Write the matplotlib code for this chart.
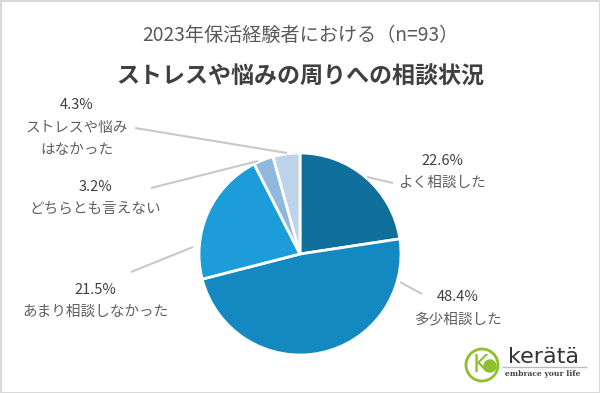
import matplotlib.pyplot as plt
from matplotlib.patches import Circle, Rectangle

plt.rcParams['font.family'] = ['Noto Sans CJK JP', 'DejaVu Sans']

title_top = '2023年保活経験者における（n=93）'
title_main = 'ストレスや悩みの周りへの相談状況'
categories = ['よく相談した', '多少相談した', 'あまり相談しなかった', 'どちらとも言えない', 'ストレスや悩み\nはなかった']
shares = [22.6, 48.4, 21.5, 3.2, 4.3]
colors = ['#10709b', '#1488c0', '#1c9cd8', '#8fb8de', '#bcd3ea']

# label layout in pixel space (x, y of the percent text)
label_pos = [(442, 161), (458, 297), (95, 290), (95, 187), (77, 105)]
line_pos = [((367, 177), (393, 183)), ((400, 282), (422, 294)),
            ((193, 247), (131, 272)), ((258, 161), (151, 188)),
            ((287, 153), (135, 128))]

W, H = 600, 393
fig = plt.figure(figsize=(6, 3.93), dpi=100)
ax = fig.add_axes([0, 0, 1, 1])


def py(y):
    return H - y


ax.pie(shares, colors=colors, startangle=90, counterclock=False,
       center=(300, py(254)), radius=101,
       wedgeprops=dict(edgecolor='white', linewidth=2), frame=True)
ax.set_xlim(0, W)
ax.set_ylim(0, H)
ax.set_aspect('equal')
ax.axis('off')

ax.add_patch(Rectangle((0.5, 0.5), W - 1, H - 1, fill=False, edgecolor='#d9d9d9', lw=1.5))

ax.text(300, py(35), title_top, ha='center', va='center', fontsize=13.8, color='#595959')
ax.text(300, py(77), title_main, ha='center', va='center', fontsize=16.6, color='#404040', fontweight='bold')

for (a, b) in line_pos:
    ax.plot([a[0], b[0]], [py(a[1]), py(b[1])], color='#c8c8c8', lw=1.5, solid_capstyle='butt')

for cat, val, (x, y) in zip(categories, shares, label_pos):
    ax.text(x, py(y), f'{val}%', ha='center', va='center', fontsize=10.5, color='#404040')
    n = cat.count('\n')
    ax.text(x, py(y + 22 + 12 * n), cat, ha='center', va='center',
            fontsize=10.5, color='#606060', linespacing=1.8)

# logo
ax.add_patch(Circle((482, py(365)), 16, fill=False, edgecolor='#8fbf2a', lw=2))
ax.text(480, py(365), 'K', ha='center', va='center', fontsize=17, color='#8fbf2a', family='DejaVu Sans')
ax.add_patch(Circle((490, py(366)), 6, color='#8fbf2a'))
ax.text(544, py(357), 'kerätä', ha='center', va='center', fontsize=16, color='#333333', family='DejaVu Sans')
ax.plot([503, 586], [py(367), py(367)], color='#bbbbbb', lw=1)
ax.text(543, py(374), 'embrace your life', ha='center', va='center', fontsize=5.5,
        color='#444444', family='DejaVu Serif', fontweight='bold')

fig.savefig('out.png', dpi=100)
